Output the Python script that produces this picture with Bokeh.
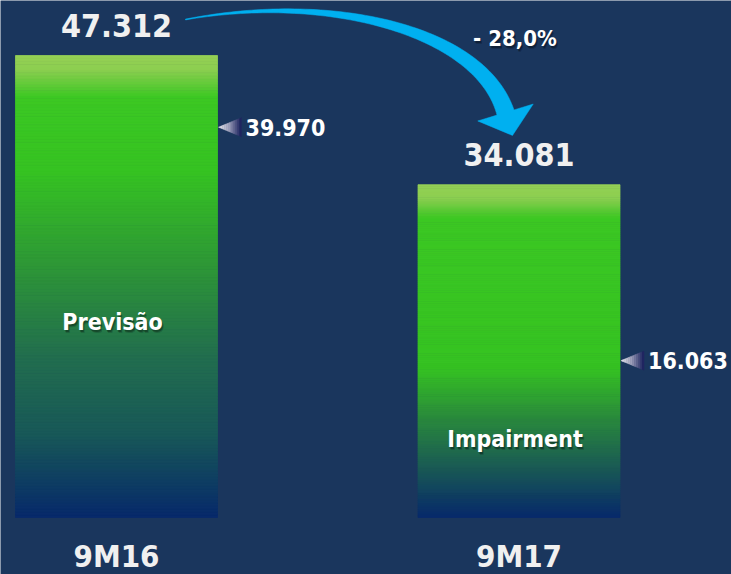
import numpy as np
from bokeh.plotting import figure
from bokeh.models import Range1d
from bokeh.embed import file_html
from bokeh.resources import INLINE
from bokeh.core.properties import value

# ---------------- data ----------------
categories = ["9M16", "9M17"]
totals = [47312, 34081]
total_labels = ["47.312", "34.081"]
marker_values = [39970, 16063]
marker_labels = ["39.970", "16.063"]
segment_names = ["Previsão", "Impairment"]

change = (totals[1] / totals[0] - 1) * 100
change_label = "- " + f"{abs(change):.1f}".replace(".", ",") + "%"

# ---------------- styling ----------------
BG = "#1a365d"
FONT = "DejaVu Sans Condensed, DejaVu Sans"
W, H = 731, 574
BASE_PX = 57      # baseline distance above frame bottom (px)
BAR_PX = 462      # pixel height of the tallest bar
PPX = 402.5       # px per category step
LEFT_PX = 116     # px from frame left to first category centre
BAR_W = 202 / PPX

upp = max(totals) / BAR_PX
y0 = -BASE_PX * upp
y1 = (H - BASE_PX) * upp
x0 = -LEFT_PX / PPX
x1 = x0 + W / PPX


def dx(px):
    return px / PPX


def dy(px):
    return px * upp


def pg_x(px):
    return x0 + px / PPX


def pg_y(py):
    return (H - BASE_PX - py) * upp


def hex2rgb(h):
    h = h.lstrip("#")
    return np.array([int(h[i:i + 2], 16) for i in (0, 2, 4)], float)


def interp(stops, f):
    for (p0, c0), (p1, c1) in zip(stops[:-1], stops[1:]):
        if p0 <= f <= p1:
            t = 0 if p1 == p0 else (f - p0) / (p1 - p0)
            c = hex2rgb(c0) * (1 - t) + hex2rgb(c1) * t
            return "#%02x%02x%02x" % tuple(int(round(v)) for v in c)
    return stops[-1][1]


# gradient stops (fraction from top of each bar)
bar_stops = [
    [(0.0, "#95d055"), (0.03, "#8ccf50"), (0.09, "#3cc823"), (0.25, "#36c322"),
     (0.45, "#2e9836"), (0.65, "#226e4e"), (0.82, "#185858"), (1.0, "#07296b")],
    [(0.0, "#95d055"), (0.04, "#8ccf50"), (0.10, "#3cc823"), (0.55, "#36c322"),
     (0.70, "#2a8a3c"), (0.85, "#1a5a55"), (1.0, "#07296b")],
]

p = figure(width=W, height=H, x_range=Range1d(x0, x1), y_range=Range1d(y0, y1),
           output_backend="svg", toolbar_location=None,
           x_axis_type=None, y_axis_type=None,
           min_border_left=0, min_border_right=0, min_border_top=0, min_border_bottom=0)
p.background_fill_color = BG
p.border_fill_color = BG
p.outline_line_color = None
p.grid.visible = False

# ---- gradient bars ----
N = 160
for i, tot in enumerate(totals):
    ks = np.arange(N)
    bottoms = tot * ks / N
    tops = tot * (ks + 1) / N
    cols = [interp(bar_stops[i], 1 - (k + 0.5) / N) for k in ks]
    p.quad(left=i - BAR_W / 2, right=i + BAR_W / 2, bottom=bottoms, top=tops,
           fill_color=cols, line_color=cols, line_width=0.8)

# ---- gradient triangle markers ----
tri_stops = [(0.0, "#ececf2"), (0.45, "#a0a2bc"), (1.0, "#161c5a")]
M = 12
for i, mv in enumerate(marker_values):
    tip = i + BAR_W / 2 + dx(1)
    xs, ys, cs = [], [], []
    for k in range(M):
        xa = tip + dx(23) * k / M
        xb = tip + dx(23) * (k + 1) / M
        ha = dy(9.5) * k / M
        hb = dy(9.5) * (k + 1) / M
        xs.append([xa, xb, xb, xa])
        ys.append([mv - ha, mv - hb, mv + hb, mv + ha])
        cs.append(interp(tri_stops, (k + 0.5) / M))
    p.patches(xs, ys, fill_color=cs, line_color=cs, line_width=0.5)

# ---- curved arrow (built in screen px, converted to data) ----
P = np.array([(185, 19), (330, -8), (480, 30), (505, 112)], float)
t = np.linspace(0, 1, 80)
B = ((1 - t) ** 3)[:, None] * P[0] + (3 * (1 - t) ** 2 * t)[:, None] * P[1] + \
    (3 * (1 - t) * t ** 2)[:, None] * P[2] + (t ** 3)[:, None] * P[3]
D = (-3 * (1 - t) ** 2)[:, None] * P[0] + (3 * (1 - t) ** 2 - 6 * (1 - t) * t)[:, None] * P[1] + \
    (6 * (1 - t) * t - 3 * t ** 2)[:, None] * P[2] + (3 * t ** 2)[:, None] * P[3]
D = D / np.linalg.norm(D, axis=1)[:, None]
Nrm = np.stack([-D[:, 1], D[:, 0]], axis=1)
wid = 0.8 + 17 * t ** 1.1
upper = B + Nrm * (wid / 2)[:, None]
lower = B - Nrm * (wid / 2)[:, None]
end, d_end, n_end = B[-1], D[-1], Nrm[-1]
head = [end + n_end * 29, end + d_end * 24, end - n_end * 29]
poly = np.vstack([upper, head, lower[::-1]])
p.patch([pg_x(v[0]) for v in poly], [pg_y(v[1]) for v in poly],
        fill_color="#00b0f0", line_color="#00b0f0", line_width=0.5)


# ---- texts ----
def shadow_text(x, y, txt, size, align="center", color="white"):
    for off, a in ((3, 0.18), (2, 0.28)):
        p.text(x=[x + dx(off * 0.6)], y=[y - dy(off)], text=[txt],
               text_font=value(FONT), text_font_style="bold", text_font_size=size,
               text_color="black", text_alpha=a, text_align=align, text_baseline="middle")
    p.text(x=[x], y=[y], text=[txt], text_font=value(FONT), text_font_style="bold",
           text_font_size=size, text_color=color, text_align=align, text_baseline="middle")


# totals above bars
p.text(x=list(range(len(totals))), y=[v + dy(30) for v in totals], text=total_labels,
       text_font=value(FONT), text_font_style="bold", text_font_size="32px",
       text_color="#f0f0f0", text_align="center", text_baseline="middle")

# marker labels
p.text(x=[i + BAR_W / 2 + dx(28) for i in range(len(marker_values))], y=marker_values,
       text=marker_labels, text_font=value(FONT), text_font_style="bold",
       text_font_size="23px", text_color="white", text_align="left", text_baseline="middle")

# segment names inside bars
for i, (nm, mv) in enumerate(zip(segment_names, marker_values)):
    shadow_text(i - dx(4), mv / 2, nm, "23px")

# change label
shadow_text(1 - dx(4), pg_y(38), change_label, "22px")

# category labels
p.text(x=list(range(len(categories))), y=[dy(-38)] * len(categories), text=categories,
       text_font=value(FONT), text_font_style="bold", text_font_size="31px",
       text_color="#f0f0f0", text_align="center", text_baseline="middle")

html = file_html(p, INLINE)
html = html.replace("<body>", '<body style="background-color:%s;">' % BG, 1)
open("out.html", "w").write(html)
